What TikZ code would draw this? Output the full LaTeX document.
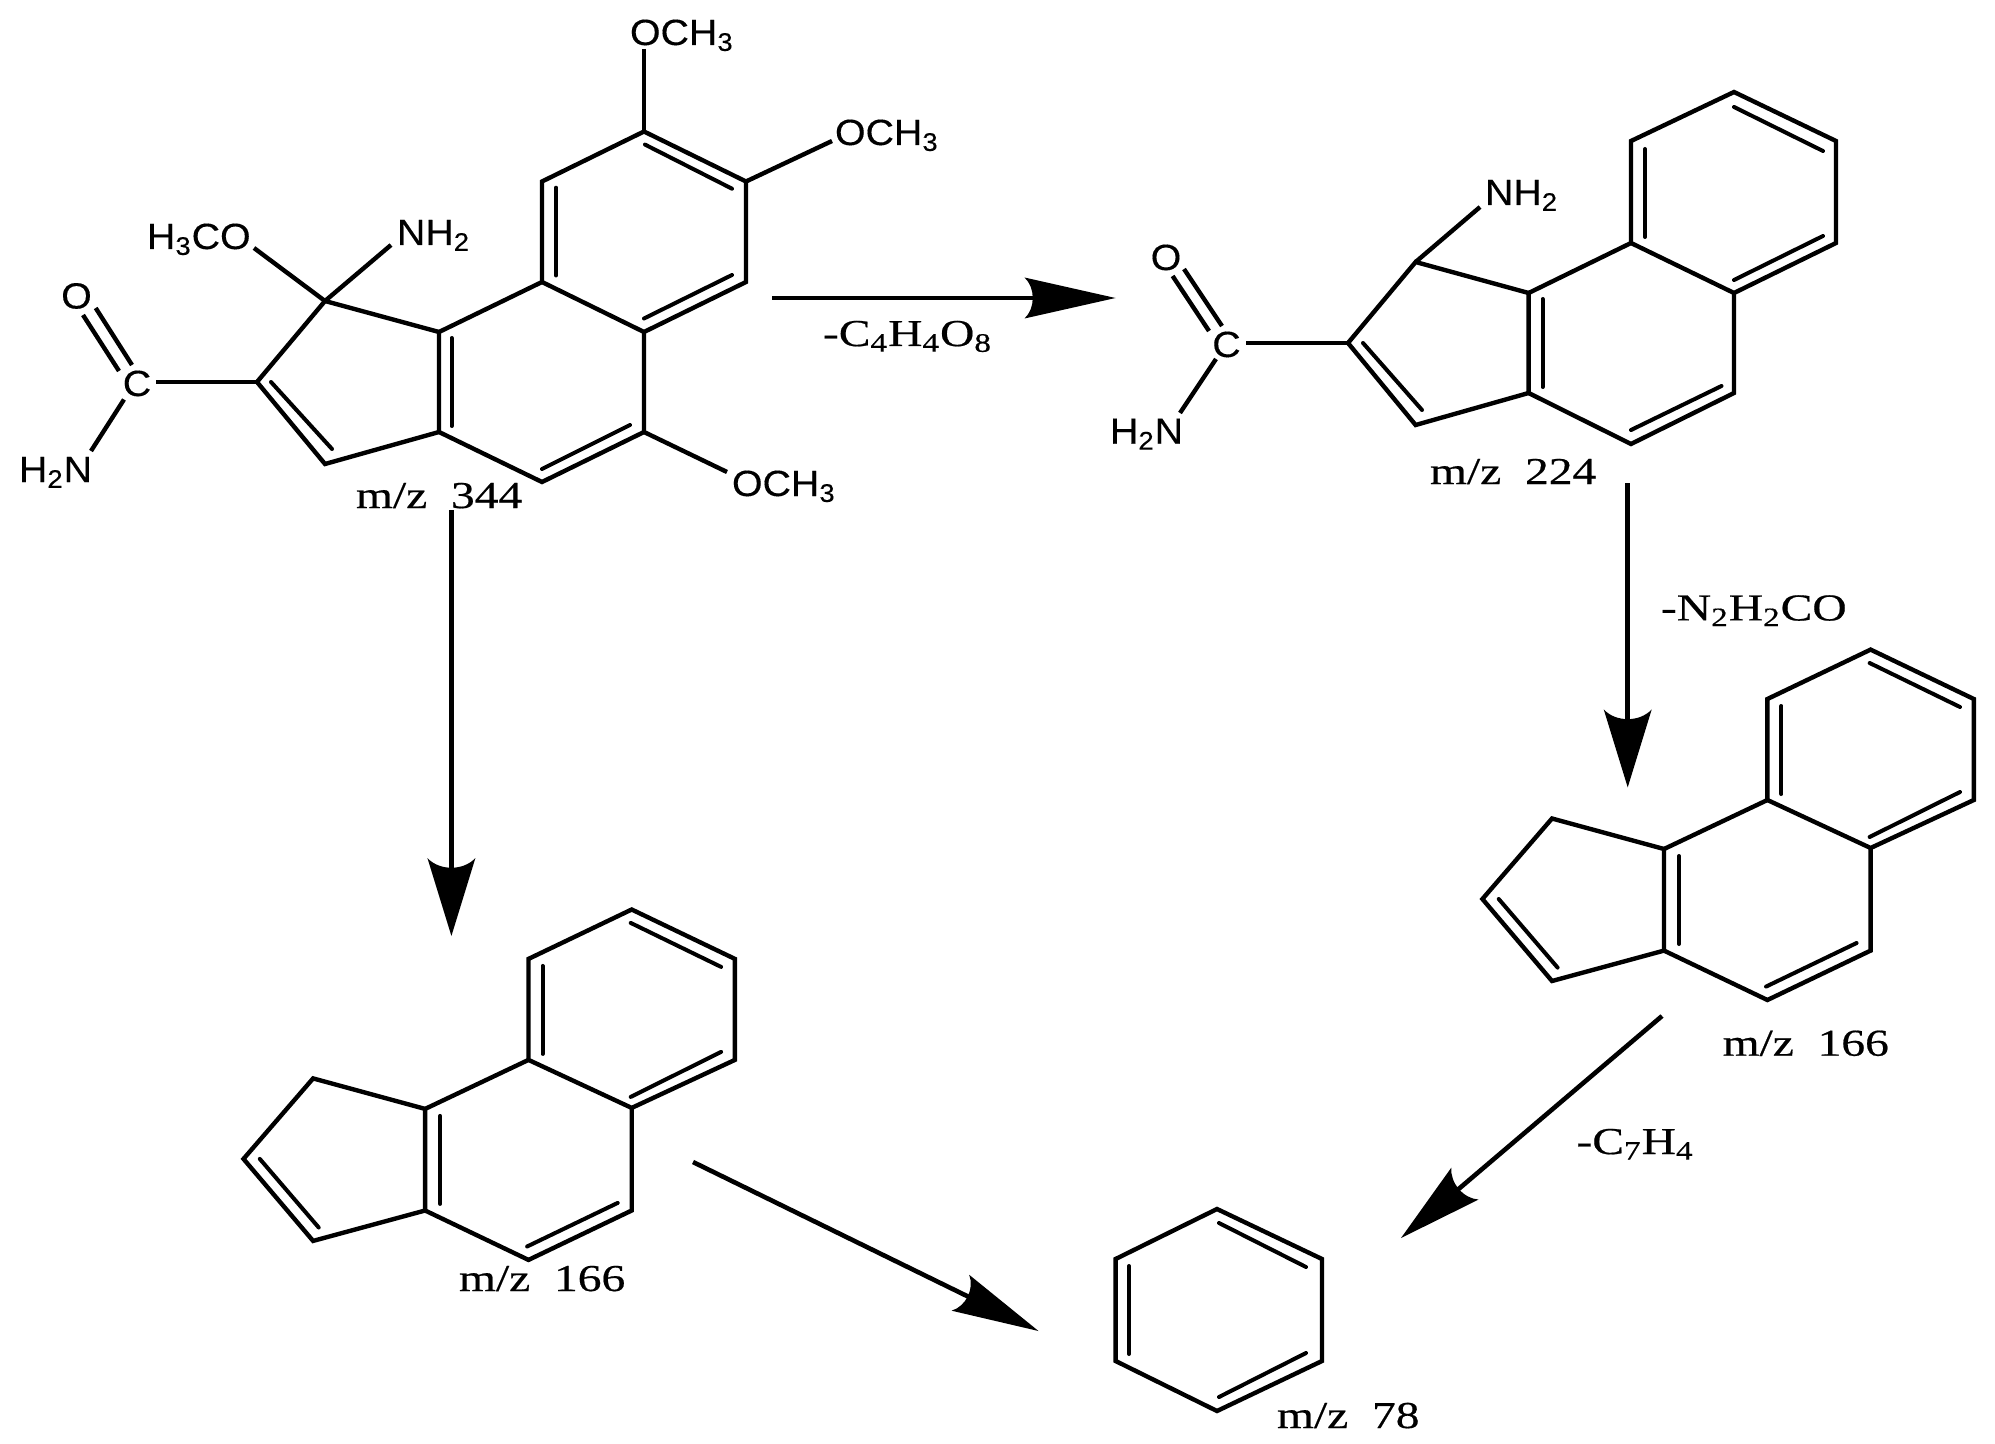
\documentclass[tikz,border=0pt]{standalone}
\usepackage{fontspec}
\usetikzlibrary{arrows.meta}
\setmainfont{Liberation Serif}
\newfontfamily\chemfont[FakeStretch=1.08,FakeBold=0.3]{Liberation Sans}
\newfontfamily\massfont[FakeStretch=1.25,FakeBold=0.5]{Liberation Serif}
\tikzset{
  bond/.style={line width=2.2pt,line join=miter,line cap=butt},
  inner bond/.style={line width=2pt,line cap=round},
  atom/.style={inner sep=0pt,outer sep=0pt,anchor=base west,yshift=-1pt,font=\chemfont\fontsize{18.2}{20}\selectfont},
  atomc/.style={inner sep=0pt,outer sep=0pt,anchor=base,yshift=-1pt,font=\chemfont\fontsize{18.2}{20}\selectfont},
  mass/.style={inner sep=0pt,outer sep=0pt,anchor=base west,font=\massfont\fontsize{19}{21}\selectfont},
  shaft/.style={line width=2.3pt,shorten >=22pt},
  tricycle/.pic={
    \coordinate (-c1) at (0,0);
    \coordinate (-c2) at (103.2,49.4);
    \coordinate (-c3) at (103.2,150.4);
    \coordinate (-c4) at (0,198.4);
    \coordinate (-c5) at (-103.2,150.4);
    \coordinate (-c6) at (-103.2,49.4);
    \coordinate (-c7) at (0,301);
    \coordinate (-c8) at (-103.2,350.4);
    \coordinate (-c9) at (-206.6,301);
    \coordinate (-c10) at (-206.6,199.4);
    \coordinate (-c11) at (-318.6,168.9);
    \coordinate (-c12) at (-388.2,249.4);
    \coordinate (-c13) at (-318.6,331.4);
    \draw[bond] (-c1)--(-c2)--(-c3)--(-c4)--(-c5)--(-c6)--cycle;
    \draw[bond] (-c4)--(-c7)--(-c8)--(-c9)--(-c10)--(-c5);
    \draw[bond] (-c10)--(-c11)--(-c12)--(-c13)--(-c9);
    \draw[inner bond] (-1,13.4)--(89.4,57.4);
    \draw[inner bond] (89.4,142.4)--(-1,187.4);
    \draw[inner bond] (-89.2,56.4)--(-89.2,144.4);
    \draw[inner bond] (-191.6,206.4)--(-191.6,294.4);
    \draw[inner bond] (-14,293.4)--(-104.6,337);
    \draw[inner bond] (-371.9,249.4)--(-313,318);
  }
}
\newcommand{\sbs}[1]{\textsubscript{#1}}
% arrow head: tip coordinate, direction, length, half width, depth of the curved back
\newcommand{\headat}[5]{%
  \fill[line join=round,shift={(#1)},rotate=#2] (0,0) -- (-#3,#4)
    .. controls (-#3+#5,#4*0.5) and (-#3+#5,-#4*0.5) .. (-#3,-#4) -- cycle;}
\begin{document}
\begin{tikzpicture}[x=0.5pt,y=-0.5pt]
\fill[white] (0,0) rectangle (1995,1444);
\useasboundingbox (0,0) rectangle (1995,1444);

% --- molecule m/z 344
\coordinate (a1) at (644,131.5);
\coordinate (a2) at (746,181.5);
\coordinate (a3) at (746,282);
\coordinate (a4) at (644,332);
\coordinate (a5) at (542,282);
\coordinate (a6) at (542,181.5);
\coordinate (a7) at (644,432);
\coordinate (a8) at (542,482);
\coordinate (a9) at (439,432);
\coordinate (a10) at (439,332);
\coordinate (a11) at (325,301);
\coordinate (a12) at (257,382);
\coordinate (a13) at (325,464);
\draw[bond] (a1)--(a2)--(a3)--(a4)--(a5)--(a6)--cycle;
\draw[bond] (a4)--(a7)--(a8)--(a9)--(a10)--(a5);
\draw[bond] (a10)--(a11)--(a12)--(a13)--(a9);
\draw[inner bond] (645,144.6)--(732,188.7);
\draw[inner bond] (732,275)--(644,318.5);
\draw[inner bond] (556,187.7)--(556,275.5);
\draw[inner bond] (451.5,338)--(451.5,426);
\draw[inner bond] (630,425)--(542,469);
\draw[inner bond] (271,382)--(332,449);

\node[atom] (ome1) at (630,43) {OCH\sbs{3}};
\node[atom] (ome2) at (835,143) {OCH\sbs{3}};
\node[atom] (ome3) at (732,494) {OCH\sbs{3}};
\node[atom] (ome4) at (147,247) {H\sbs{3}CO};
\node[atom] (nh2a) at (397,243) {NH\sbs{2}};
\node[atomc] (oa) at (76.5,306.5) {O};
\node[atomc] (ca) at (137,394) {C};
\node[atom] (h2na) at (19,480) {H\sbs{2}N};
\node[mass] (ma) at (356,508) {m/z\ \ 344};

\coordinate (ome1b) at (644,49);
\coordinate (ome2b) at (832,141);
\coordinate (ome3b) at (727,472);
\coordinate (ome4b) at (254,248);
\coordinate (nh2ab) at (391,245);
\coordinate (cab) at (156,382);
\coordinate (coa1) at (95.7,308);
\coordinate (coa2) at (132,365);
\coordinate (cob1) at (83,315);
\coordinate (cob2) at (119,371);
\coordinate (cna1) at (124,399.5);
\coordinate (cna2) at (91,451);
\draw[bond] (ome1b)--(a1);
\draw[bond] (ome2b)--(a2);
\draw[bond] (ome3b)--(a7);
\draw[bond] (ome4b)--(a11);
\draw[bond] (nh2ab)--(a11);
\draw[bond] (cab)--(a12);
\draw[bond] (coa1)--(coa2);
\draw[bond] (cob1)--(cob2);
\draw[bond] (cna1)--(cna2);

% --- molecule m/z 224
\coordinate (b1) at (1734,92);
\coordinate (b2) at (1836,141);
\coordinate (b3) at (1836,243);
\coordinate (b4) at (1734,293);
\coordinate (b5) at (1631,243);
\coordinate (b6) at (1631,141);
\coordinate (b7) at (1734,393);
\coordinate (b8) at (1631,444);
\coordinate (b9) at (1528.6,393);
\coordinate (b10) at (1528.6,293);
\coordinate (b11) at (1415.6,262);
\coordinate (b12) at (1348,343);
\coordinate (b13) at (1415.6,425);
\draw[bond] (b1)--(b2)--(b3)--(b4)--(b5)--(b6)--cycle;
\draw[bond] (b4)--(b7)--(b8)--(b9)--(b10)--(b5);
\draw[bond] (b10)--(b11)--(b12)--(b13)--(b9);
\draw[inner bond] (1734,107)--(1823,151);
\draw[inner bond] (1823,236)--(1734,280);
\draw[inner bond] (1645,149)--(1645,237);
\draw[inner bond] (1542.5,299)--(1542.5,387);
\draw[inner bond] (1721.5,386)--(1631,430);
\draw[inner bond] (1363,343)--(1422,410);

\node[atom] (nh2b) at (1485,203) {NH\sbs{2}};
\node[atomc] (ob) at (1166,268) {O};
\node[atomc] (cb) at (1226.5,355) {C};
\node[atom] (h2nb) at (1110,441.7) {H\sbs{2}N};
\node[mass] (mb) at (1430,484) {m/z\ \ 224};

\coordinate (nh2bb) at (1480,207);
\coordinate (cbb) at (1246,343);
\coordinate (cob3) at (1184,269);
\coordinate (cob4) at (1222,326);
\coordinate (cob5) at (1172.6,276);
\coordinate (cob6) at (1209,331);
\coordinate (cnb1) at (1216,359);
\coordinate (cnb2) at (1180,413);
\draw[bond] (nh2bb)--(b11);
\draw[bond] (cbb)--(b12);
\draw[bond] (cob3)--(cob4);
\draw[bond] (cob5)--(cob6);
\draw[bond] (cnb1)--(cnb2);

% --- two copies of the m/z 166 fragment
\pic (c) at (1870.6,649.6) {tricycle};
\pic (d) at (631.7,909.5) {tricycle};
\node[mass] (mc) at (1722.6,1055.7) {m/z\ \ 166};
\node[mass] (md) at (459,1291) {m/z\ \ 166};

% --- benzene
\coordinate (e1) at (1217,1209);
\coordinate (e2) at (1322,1259);
\coordinate (e3) at (1322,1361);
\coordinate (e4) at (1217,1411);
\coordinate (e5) at (1115.6,1361);
\coordinate (e6) at (1115.6,1259);
\draw[bond] (e1)--(e2)--(e3)--(e4)--(e5)--(e6)--cycle;
\draw[inner bond] (1219,1223)--(1306,1267);
\draw[inner bond] (1306,1353)--(1219,1397);
\draw[inner bond] (1129,1266)--(1129,1354);
\node[mass] (me) at (1277,1428) {m/z\ \ 78};

% --- reaction arrows
\coordinate (p1s) at (772,298);
\coordinate (p1t) at (1115.5,298);
\coordinate (p2s) at (1627.7,483);
\coordinate (p2t) at (1627.7,787.4);
\coordinate (p3s) at (451.4,510);
\coordinate (p3t) at (451.4,936);
\coordinate (p4s) at (1662,1016);
\coordinate (p4t) at (1401,1238);
\coordinate (p5s) at (693,1162);
\coordinate (p5t) at (1038.5,1331);
\draw[shaft] (p1s)--(p1t);
\draw[shaft] (p2s)--(p2t);
\draw[shaft] (p3s)--(p3t);
\draw[shaft] (p4s)--(p4t);
\draw[shaft] (p5s)--(p5t);
\headat{p1t}{0}{91}{20.5}{11}
\headat{p2t}{-90}{78}{24}{13}
\headat{p3t}{-90}{78}{24}{13}
\headat{p4t}{-139.6}{84}{21}{11}
\headat{p5t}{-26.1}{87}{20}{11}

\node[mass] (l1) at (823,346) {-C\sbs{4}H\sbs{4}O\sbs{8}};
\node[mass] (l2) at (1661,620.4) {-N\sbs{2}H\sbs{2}CO};
\node[mass] (l3) at (1576.5,1154) {-C\sbs{7}H\sbs{4}};
\end{tikzpicture}
\end{document}
